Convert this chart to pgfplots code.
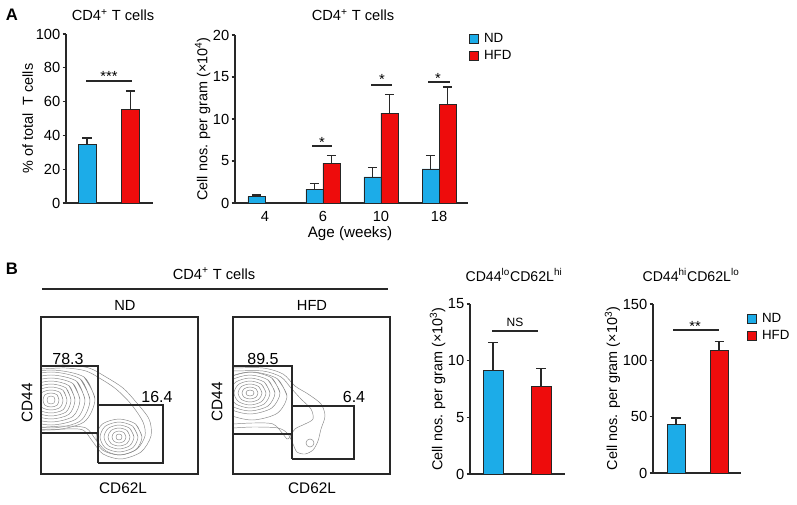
\documentclass[border=0pt]{standalone}
\usepackage{pgfplots}
\pgfplotsset{compat=1.18}
\usepackage{fontspec}
\setmainfont{Liberation Sans}
\definecolor{ndblue}{RGB}{28,172,232}
\definecolor{hfdred}{RGB}{238,12,12}
\definecolor{axcol}{RGB}{40,40,40}
\definecolor{ctcol}{RGB}{135,135,135}
\newcommand{\fs}[1]{\fontsize{#1}{#1}\selectfont}
\pgfplotsset{
  barax/.style={
    scale only axis,
    axis x line*=bottom, axis y line*=left,
    axis line style={-, line width=0.9pt, draw=axcol},
    ymin=0,
    ybar,
    tick align=outside,
    major tick length=2.6pt,
    ytick style={line width=0.9pt, draw=axcol},
    xtick=\empty,
    /pgf/number format/assume math mode=true,
    ticklabel style={font=\fs{11}},
    yticklabel style={inner sep=1.5pt},
    label style={font=\fs{10.8}},
    ylabel shift=-3pt,
    error bars/y dir=plus,
    error bars/y explicit,
    error bars/error mark options={rotate=90, mark size=3.4pt, line width=0.9pt, draw=axcol},
    error bars/error bar style={line width=0.9pt, draw=axcol},
    legend image code/.code={\draw[##1, line width=0.6pt] (0pt,-3.2pt) rectangle (6.4pt,3.2pt);},
    legend style={draw=none, fill=none, inner sep=0pt, font=\fs{10}, row sep=1.2pt,
      column sep=2.5pt, nodes={inner sep=1.6pt}},
    legend cell align=left,
  },
  ndbar/.style={fill=ndblue, draw=black!85, line width=0.6pt},
  hfdbar/.style={fill=hfdred, draw=black!85, line width=0.6pt},
  flowax/.style={scale only axis, width=117.75pt, height=117.75pt,
    xmin=0, xmax=157, ymin=0, ymax=157, xtick=\empty, ytick=\empty,
    axis line style={line width=0.9pt, draw=axcol}},
  ct/.style={smooth, draw=ctcol, line width=0.35pt, mark=none},
  gate/.style={draw=axcol, line width=0.9pt, mark=none},
}
\begin{document}
\begin{tikzpicture}
\useasboundingbox (0,0) rectangle (597.75pt,378pt);

% ---------------- Panel A left ----------------
\begin{axis}[barax, at={(49.5pt,225.75pt)}, anchor=south west,
  width=65.25pt, height=126.75pt,
  xmin=-0.483, xmax=1.517, ymax=100, ytick={0,20,40,60,80,100},
  ylabel={\% of total \ T cells}]
\addplot[ndbar, bar shift=0pt, bar width=13.5pt] coordinates {(0,34.4) +- (0,4.1)};
\addplot[hfdbar, bar shift=0pt, bar width=13.5pt] coordinates {(1,55.6) +- (0,10.7)};
\end{axis}

% ---------------- Panel A right ----------------
\begin{axis}[barax, at={(176.25pt,225.75pt)}, anchor=south west,
  width=174.75pt, height=126pt,
  xmin=-0.517, xmax=3.5, ymax=20, ytick={0,5,10,15,20},
  xtick={0,1,2,3}, xticklabels={4,6,10,18}, xtick style={draw=none},
  ylabel={Cell nos. per gram (×10\textsuperscript{4})},
  legend style={at={(1.004,1.025)}, anchor=north west}]
\addplot[ndbar, bar shift=-6.375pt, bar width=12.75pt] coordinates {
  (0,0.75) +- (0,0.2)
  (1,1.65) +- (0,0.7)
  (2,3.1) +- (0,1.15)
  (3,4.05) +- (0,1.65)};
\addplot[hfdbar, bar shift=6.375pt, bar width=12.75pt] coordinates {
  (1,4.75) +- (0,0.95)
  (2,10.7) +- (0,2.2)
  (3,11.7) +- (0,2.1)};
\legend{ND,HFD}
\end{axis}

% ---------------- Panel B bar 1 ----------------
\begin{axis}[barax, at={(352.5pt,22.5pt)}, anchor=south west,
  width=71.25pt, height=127.5pt,
  xmin=-0.479, xmax=1.5, ymax=15, ytick={0,5,10,15},
  ylabel={Cell nos. per gram (×10\textsuperscript{3})}]
\addplot[ndbar, bar shift=0pt, bar width=15pt] coordinates {(0,9.1) +- (0,2.5)};
\addplot[hfdbar, bar shift=0pt, bar width=15pt] coordinates {(1,7.7) +- (0,1.6)};
\end{axis}

% ---------------- Panel B bar 2 ----------------
\begin{axis}[barax, at={(489.75pt,23.25pt)}, anchor=south west,
  width=66pt, height=126.75pt,
  xmin=-0.535, xmax=1.51, ymax=150, ytick={0,50,100,150},
  ylabel={Cell nos. per gram (×10\textsuperscript{3})},
  legend style={at={(1.068,0.958)}, anchor=north west}]
\addplot[ndbar, bar shift=0pt, bar width=13.5pt] coordinates {(0,43.5) +- (0,5.3)};
\addplot[hfdbar, bar shift=0pt, bar width=13.5pt] coordinates {(1,109) +- (0,8)};
\legend{ND,HFD}
\end{axis}

% ---------------- Flow plot ND ----------------
\begin{axis}[flowax, at={(30.75pt,22.5pt)}, anchor=south west]
% cluster 1 (CD44 hi)
\addplot[ct] coordinates {(14,74)(13,77)(10,78)(7,77)(6,74)(7,71)(10,70)(13,71)(14,74)(13,77)};
\addplot[ct] coordinates {(18,74)(16,79.3)(10,81)(4,79.3)(2,74)(4,68.7)(10,67)(16,68.7)(18,74)(16,79.3)};
\addplot[ct] coordinates {(22,74)(19,81.5)(10,84)(1,81.5)(-2,74)(1,66.5)(10,64)(19,66.5)(22,74)(19,81.5)};
\addplot[ct] coordinates {(26,74)(22,83.8)(10,87)(-2,83.8)(-6,74)(-2,64.2)(10,61)(22,64.2)(26,74)(22,83.8)};
\addplot[ct] coordinates {(30,74)(25,86)(10,90)(-5,86)(-10,74)(-5,62)(10,58)(25,62)(30,74)(25,86)};
\addplot[ct] coordinates {(34,74)(28,88.3)(10,93)(-8,88.3)(-14,74)(-8,59.7)(10,55)(28,59.7)(34,74)(28,88.3)};
\addplot[ct] coordinates {(39,74)(31.8,90.5)(10,96)(-11.8,90.5)(-19,74)(-11.8,57.5)(10,52)(31.8,57.5)(39,74)(31.8,90.5)};
\addplot[ct] coordinates {(44,74)(35.5,92.8)(10,99)(-15.5,92.8)(-24,74)(-15.5,55.2)(10,49)(35.5,55.2)(44,74)(35.5,92.8)};
\addplot[ct] coordinates {(49,74)(39.3,95)(10,102)(-19.3,95)(-29,74)(-19.3,53)(10,46)(39.3,53)(49,74)(39.3,95)};
\addplot[ct] coordinates {(54,75)(43,97)(10,104)(-22,97)(-32,75)(-22,52)(10,44)(43,52)(54,75)(43,97)};
% cluster 2 (CD62L hi)
\addplot[ct] coordinates {(81,37)(80.2,39.2)(78,40)(75.8,39.2)(75,37)(75.8,34.8)(78,34)(80.2,34.8)(81,37)(80.2,39.2)};
\addplot[ct] coordinates {(85,37)(83,41.3)(78,43)(73,41.3)(71,37)(73,32.7)(78,31)(83,32.7)(85,37)(83,41.3)};
\addplot[ct] coordinates {(89,37)(86,43.5)(78,46)(70,43.5)(67,37)(70,30.5)(78,28)(86,30.5)(89,37)(86,43.5)};
\addplot[ct] coordinates {(93,37)(88.8,45.6)(78,49)(67.2,45.6)(63,37)(67.2,28.4)(78,25)(88.8,28.4)(93,37)(88.8,45.6)};
\addplot[ct] coordinates {(97,37)(91.7,47.8)(78,52)(64.3,47.8)(59,37)(64.3,26.2)(78,22)(91.7,26.2)(97,37)(91.7,47.8)};
\addplot[ct] coordinates {(101,37)(94.6,50)(78,55)(61.4,50)(55,37)(61.4,24)(78,19)(94.6,24)(101,37)(94.6,50)};
% outer contours joining both populations
\addplot[ct] coordinates {(-5,105)(0,105)(25,106)(45,103)(60,95)(75,85)(90,70)(102,52)(104,38)(96,25)(80,19)(65,23)(55,34)(45,46)(25,48)(5,47)(-5,47)};
\addplot[ct] coordinates {(-5,108)(0,108)(25,109)(48,106)(65,97)(82,86)(95,72)(108,55)(110,38)(100,22)(80,15)(62,20)(52,32)(42,44)(25,45)(5,44)(-5,44)};
% gates
\addplot[gate] coordinates {(0,41)(57,41)(57,108)(0,108)(0,41)};
\addplot[gate] coordinates {(57,11)(122,11)(122,69)(57,69)(57,11)};
\end{axis}

% ---------------- Flow plot HFD ----------------
\begin{axis}[flowax, at={(174.75pt,22.5pt)}, anchor=south west]
\addplot[ct] coordinates {(21,81)(19.9,83.2)(17,84)(14.1,83.2)(13,81)(14.1,78.8)(17,78)(19.9,78.8)(21,81)(19.9,83.2)};
\addplot[ct] coordinates {(25,81)(22.8,85.3)(17,87)(11.2,85.3)(9,81)(11.2,76.7)(17,75)(22.8,76.7)(25,81)(22.8,85.3)};
\addplot[ct] coordinates {(29,81)(25.6,87.5)(17,90)(8.4,87.5)(5,81)(8.4,74.5)(17,72)(25.6,74.5)(29,81)(25.6,87.5)};
\addplot[ct] coordinates {(33,81)(28.5,89.6)(17,93)(5.5,89.6)(1,81)(5.5,72.4)(17,69)(28.5,72.4)(33,81)(28.5,89.6)};
\addplot[ct] coordinates {(37,81)(31.4,91.8)(17,96)(2.6,91.8)(-3,81)(2.6,70.2)(17,66)(31.4,70.2)(37,81)(31.4,91.8)};
\addplot[ct] coordinates {(42,81)(35,94)(17,99)(-1,94)(-8,81)(-1,68)(17,63)(35,68)(42,81)(35,94)};
\addplot[ct] coordinates {(47,81)(38.6,96.1)(17,102)(-4.6,96.1)(-13,81)(-4.6,65.9)(17,60)(38.6,65.9)(47,81)(38.6,96.1)};
\addplot[ct] coordinates {(54,78)(44.2,95.3)(19,102)(-6.2,95.3)(-16,78)(-6.2,60.7)(19,54)(44.2,60.7)(54,78)(44.2,95.3)};
% tails
\addplot[ct] coordinates {(-5,103)(0,103)(30,103)(48,97)(58,86)(68,75)(78,65)(80,55)(72,50)(62,45)(55,35)(50,40)(40,50)(20,51)(0,50)(-5,50)};
\addplot[ct] coordinates {(-5,106)(0,106)(30,106)(50,100)(62,88)(75,80)(88,70)(92,58)(88,45)(85,33)(80,24)(72,20)(64,22)(60,30)(55,40)(45,46)(20,47)(0,46)(-5,46)};
\addplot[ct] coordinates {(81,31)(79.8,33.8)(77,35)(74.2,33.8)(73,31)(74.2,28.2)(77,27)(79.8,28.2)(81,31)(79.8,33.8)};
% gates
\addplot[gate] coordinates {(0,40)(59,40)(59,108)(0,108)(0,40)};
\addplot[gate] coordinates {(59,15)(121,15)(121,68)(59,68)(59,15)};
\end{axis}

% ---------------- annotations (1 unit = 1 px of the reference) ----------------
\begin{scope}[x=0.75pt, y=0.75pt]
\node[font=\bfseries\fs{12.5}] at (12,489) {A};
\node[font=\bfseries\fs{12.5}] at (12,235) {B};
\node[font=\fs{11}] at (113,489) {CD4\textsuperscript{+} T cells};
\node[font=\fs{11}] at (353,489) {CD4\textsuperscript{+} T cells};
\node[font=\fs{11.4}] at (350,270) {Age (weeks)};
% significance bars
\draw[line width=0.9pt, axcol] (86,423) -- (132,423);
\node[font=\fs{11}] at (109,428) {***};
\draw[line width=0.9pt, axcol] (312,358) -- (332,358);
\node[font=\fs{11}] at (322,362) {*};
\draw[line width=0.9pt, axcol] (371,419) -- (392,419);
\node[font=\fs{11}] at (382,425) {*};
\draw[line width=0.9pt, axcol] (428,422) -- (450,422);
\node[font=\fs{11}] at (438,426) {*};
\draw[line width=0.9pt, axcol] (492,173) -- (538,173);
\node[font=\fs{9}] at (515,182) {NS};
\draw[line width=0.9pt, axcol] (673,174) -- (719,174);
\node[font=\fs{11}] at (695,178) {**};
% panel B flow labels
\node[font=\fs{11}] at (214,230.5) {CD4\textsuperscript{+} T cells};
\draw[line width=0.9pt, axcol] (42,215) -- (388,215);
\node[font=\fs{11}] at (125,199) {ND};
\node[font=\fs{11}] at (312,199) {HFD};
\node[font=\fs{12}] at (68,145) {78.3};
\node[font=\fs{12}] at (157,107) {16.4};
\node[font=\fs{12}] at (263,145) {89.5};
\node[font=\fs{12}] at (354,107) {6.4};
\node[font=\fs{11.5}, rotate=90] at (27,101) {CD44};
\node[font=\fs{11.5}, rotate=90] at (217,102) {CD44};
\node[font=\fs{11.5}] at (123,16) {CD62L};
\node[font=\fs{11.5}] at (312,16) {CD62L};
\node[font=\fs{10.6}] at (514,229) {CD44\textsuperscript{lo}CD62L\textsuperscript{hi}};
\node[font=\fs{10.6}] at (691,229) {CD44\textsuperscript{hi}CD62L\textsuperscript{lo}};
\end{scope}
\end{tikzpicture}
\end{document}
